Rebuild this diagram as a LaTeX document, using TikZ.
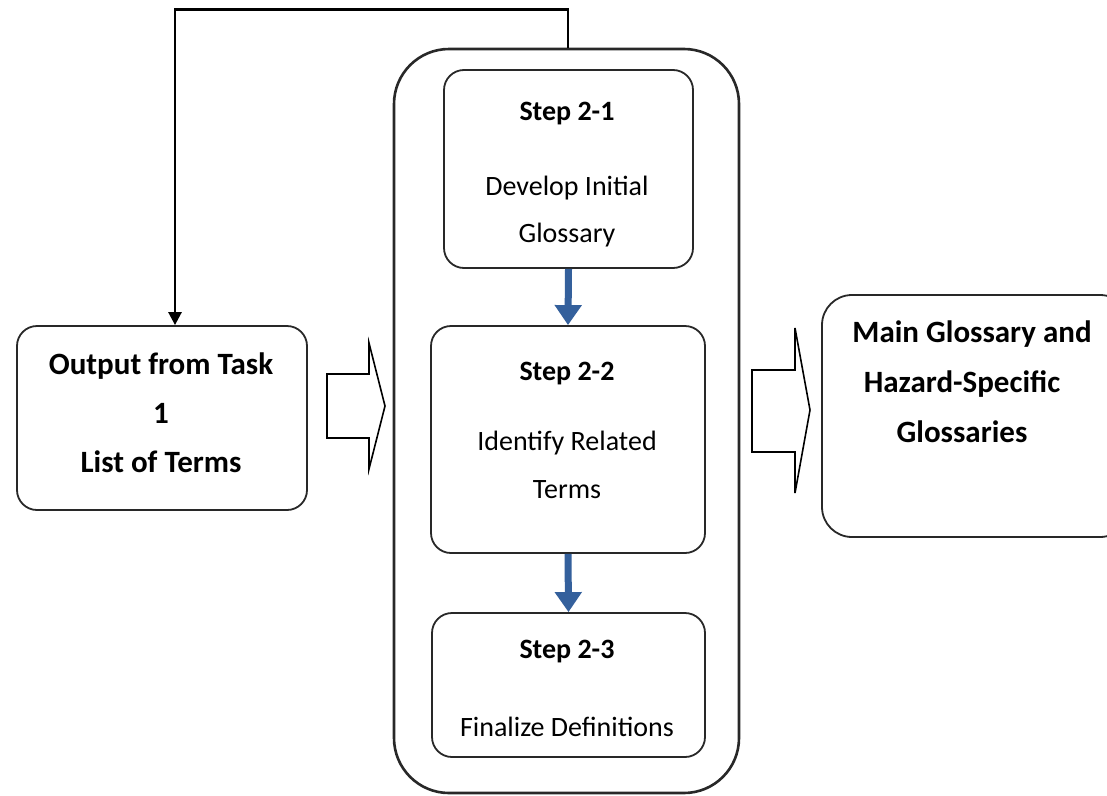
\documentclass[tikz,border=0pt]{standalone}
\usepackage{fontspec}
\setmainfont{Carlito}
\usetikzlibrary{arrows.meta}
\definecolor{flowblue}{RGB}{52,96,156}
\definecolor{edgegray}{RGB}{40,40,40}
\begin{document}
\begin{tikzpicture}[x=1pt,y=-1pt,
  box/.style={draw=edgegray, line width=1.8pt, rounded corners=20pt, fill=white, inner sep=0pt},
  container/.style={draw=edgegray, line width=2.6pt, rounded corners=55pt, inner sep=0pt},
  bigtext/.style={font=\fontsize{31}{34}\selectfont\bfseries},
  steptitle/.style={font=\fontsize{28}{32}\selectfont\bfseries},
  steptext/.style={font=\fontsize{28}{32}\selectfont},
  feedback/.style={draw=black, line width=2.6pt, -{Triangle[length=13pt,width=13pt]}},
  downarrow/.style={draw=flowblue, line width=7pt, -{Triangle[length=20pt,width=26pt]}},
  blockarrow/.style={draw=black, line width=1.6pt, fill=white, line join=miter}
]
\clip (0,0) rectangle (1107,795);
\fill[white] (0,0) rectangle (1107,795);

% process container and its three steps
\node[container, minimum width=345pt, minimum height=744pt] (task) at (566.5,421) {};
\node[box, minimum width=249pt, minimum height=198pt] (s1) at (568.5,169) {};
\node[box, minimum width=274pt, minimum height=227pt] (s2) at (568,439.5) {};
\node[box, minimum width=273pt, minimum height=144pt] (s3) at (568.5,685) {};

% input and output boxes
\node[box, minimum width=290pt, minimum height=184pt] (src) at (162,418) {};
\node[box, rounded corners=30pt, minimum width=308pt, minimum height=242pt] (out) at (976,416) {};

% texts
\node[bigtext] (t1) at (161,366) {Output from Task};
\node[bigtext] (t2) at (161,413) {1};
\node[bigtext] (t3) at (161,462) {List of Terms};

\node[bigtext] (o1) at (972,334) {Main Glossary and};
\node[bigtext] (o2) at (962,384) {Hazard-Specific};
\node[bigtext] (o3) at (962,432) {Glossaries};

\node[steptitle] (a1) at (567,114) {Step 2-1};
\node[steptext] (a2) at (567,188) {Develop Initial};
\node[steptext] (a3) at (567,235) {Glossary};

\node[steptitle] (b1) at (567,374) {Step 2-2};
\node[steptext] (b2) at (567,443) {Identify Related};
\node[steptext] (b3) at (567,490) {Terms};

\node[steptitle] (c1) at (567,652) {Step 2-3};
\node[steptext] (c2) at (567,727) {Finalize Definitions};

% flow between the steps
\draw[downarrow] (s1.south) -- (s2.north);
\draw[downarrow] (s2.south) -- (s3.north);

% feedback from the task back to its input
\draw[feedback] ([xshift=1.5pt]task.north) -- ++(0,-38) -| ([xshift=13pt]src.north);

% block arrows into and out of the task
\draw[blockarrow] (327,374) -- (369,374) -- (369,343) -- (385,406) -- (369,469) -- (369,438) -- (327,438) -- cycle;
\draw[blockarrow] (752,370) -- (795,370) -- (795,328) -- (810,410) -- (795,493) -- (795,452) -- (752,452) -- cycle;
\end{tikzpicture}
\end{document}
